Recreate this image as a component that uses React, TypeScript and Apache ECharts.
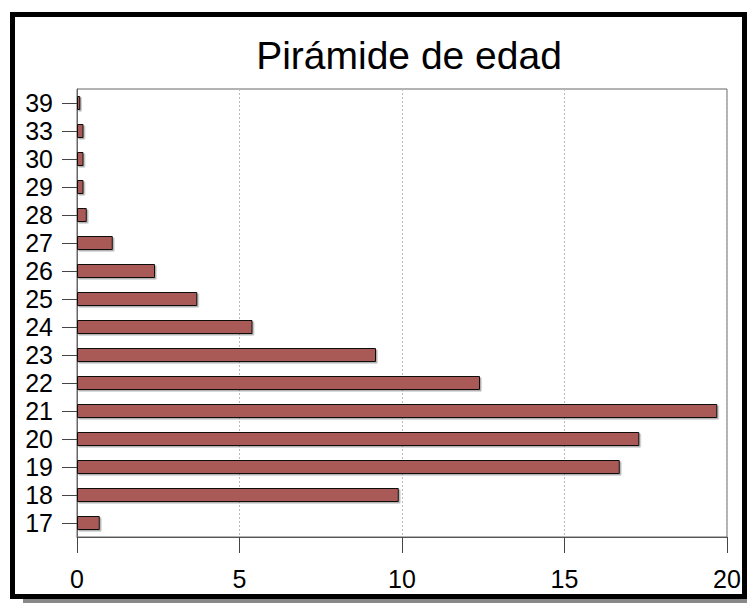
import React, { useEffect, useRef } from "react";
import * as echarts from "echarts";

const ages = ["17", "18", "19", "20", "21", "22", "23", "24", "25", "26", "27", "28", "29", "30", "33", "39"];
const percents = [0.7, 9.9, 16.7, 17.3, 19.7, 12.4, 9.2, 5.4, 3.7, 2.4, 1.1, 0.3, 0.2, 0.2, 0.2, 0.1];
const xTicks = [0, 5, 10, 15, 20];
const titleText = "Pirámide de edad";

const FONT = "'Liberation Sans', Arial, Helvetica, sans-serif";

export default function App() {
  const ref = useRef<HTMLDivElement>(null);
  useEffect(() => {
    document.body.style.margin = "0";
    const chart = echarts.init(ref.current!, null, { renderer: "svg" });
    chart.setOption({
      animation: false,
      backgroundColor: "#ffffff",
      title: {
        text: titleText,
        left: 404,
        textAlign: "center",
        top: 31,
        textStyle: { fontFamily: FONT, fontSize: 39, fontWeight: "normal", color: "#000" },
      },
      grid: {
        left: 77,
        top: 89,
        right: 20,
        bottom: 66,
        show: true,
        borderColor: "#666",
        borderWidth: 1,
        backgroundColor: "transparent",
      },
      xAxis: {
        type: "value",
        min: xTicks[0],
        max: xTicks[xTicks.length - 1],
        interval: 5,
        axisLine: { show: true, lineStyle: { color: "#555", width: 1 } },
        axisTick: { show: true, length: 16, lineStyle: { color: "#444", width: 1 } },
        axisLabel: { fontFamily: FONT, fontSize: 25, color: "#000", margin: 29 },
        splitLine: { show: true, lineStyle: { color: "#bbb", type: [2, 2], width: 1 } },
      },
      yAxis: {
        type: "category",
        data: ages,
        axisLine: { show: true, lineStyle: { color: "#666", width: 1 } },
        axisTick: { show: true, alignWithLabel: true, interval: 0, length: 15, lineStyle: { color: "#444", width: 1 } },
        axisLabel: { fontFamily: FONT, fontSize: 25, color: "#000", margin: 24, interval: 0 },
        splitLine: { show: false },
      },
      series: [
        {
          type: "bar",
          data: percents,
          barWidth: 14,
          itemStyle: {
            color: "#AA5A57",
            borderColor: "#111",
            borderWidth: 1,
            shadowColor: "rgba(0,0,0,0.3)",
            shadowOffsetX: 1.5,
            shadowOffsetY: 1.5,
            shadowBlur: 0,
          },
        },
      ],
      graphic: [
        {
          type: "rect",
          shape: { x: 23, y: 599, width: 724, height: 4 },
          style: { fill: "#888" },
          silent: true,
        },
        {
          type: "rect",
          shape: { x: 12.5, y: 14.5, width: 732, height: 582 },
          style: { fill: "none", stroke: "#000", lineWidth: 5 },
          silent: true,
        },
      ],
    });
    return () => chart.dispose();
  }, []);
  return <div ref={ref} style={{ width: 747, height: 603 }} />;
}
